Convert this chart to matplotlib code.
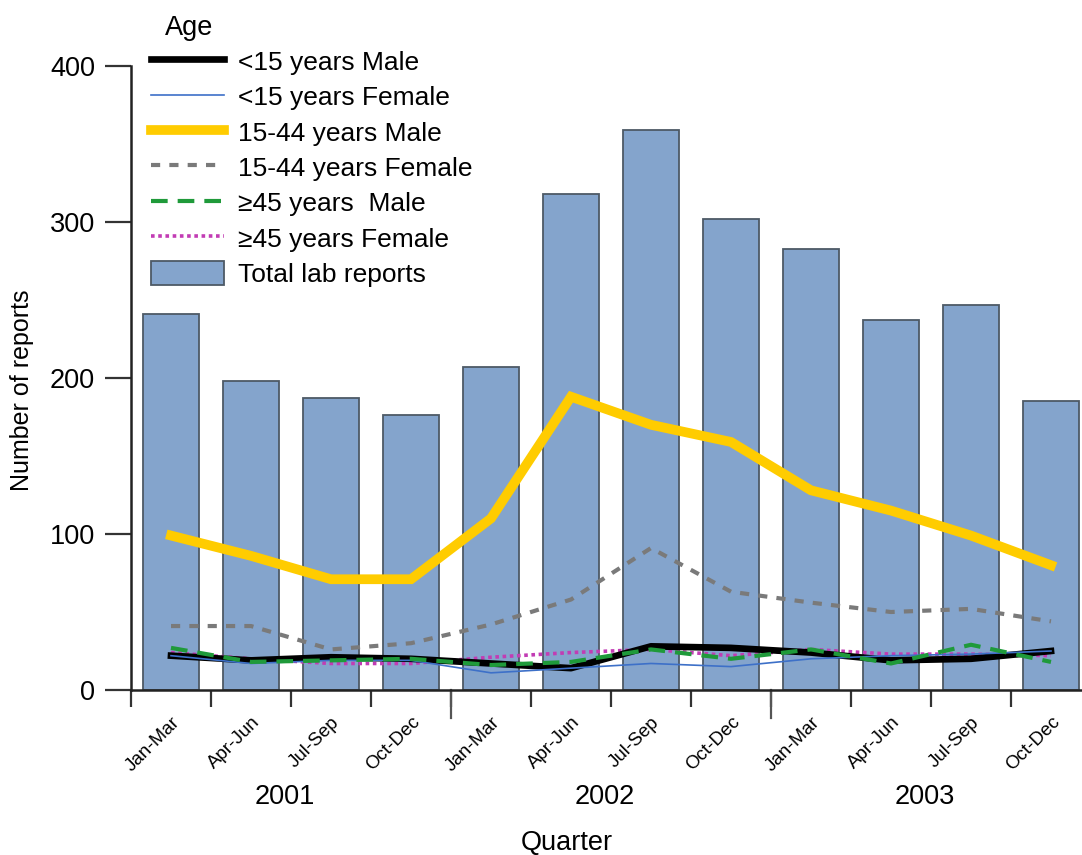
import numpy as np
import matplotlib
matplotlib.use('Agg')
import matplotlib.pyplot as plt
from matplotlib.lines import Line2D
from matplotlib.patches import Patch
from matplotlib.transforms import ScaledTranslation, blended_transform_factory

plt.rcParams['font.family'] = ['Liberation Sans', 'DejaVu Sans']

quarters = ['Jan-Mar', 'Apr-Jun', 'Jul-Sep', 'Oct-Dec'] * 3
years = ['2001', '2002', '2003']

total_reports = [241, 198, 187, 176, 207, 318, 359, 302, 283, 237, 247, 185]

u15_male = [22, 19, 21, 20, 17, 14, 28, 27, 24, 19, 20, 25]
u15_female = [22, 17, 19, 19, 11, 14, 17, 15, 20, 22, 23, 25]
a15_44_male = [99, 86, 71, 71, 110, 188, 170, 159, 128, 115, 99, 80]
a15_44_female = [41, 41, 26, 30, 42, 58, 91, 63, 56, 50, 52, 44]
o45_male = [27, 18, 19, 20, 16, 18, 26, 20, 26, 17, 29, 18]
o45_female = [24, 20, 17, 17, 21, 24, 26, 22, 26, 23, 23, 22]

W, H = 1082, 855
fig = plt.figure(figsize=(W / 100, H / 100), dpi=100)
ax = fig.add_axes([131 / W, (H - 690) / H, 950 / W, 624 / H])

x = np.arange(len(total_reports))
bars = ax.bar(x, total_reports, width=0.7, color='#84a4cc', edgecolor='#4d5966',
              linewidth=1.3, zorder=1)

ax.plot(x, a15_44_female, color='#7a7a7a', lw=3, ls=(0, (2.2, 2.2)), zorder=3)
ax.plot(x, o45_female, color='#c23cb4', lw=2.6, ls=(0, (1, 1)), zorder=3)
ax.plot(x, u15_male, color='black', lw=4.8, zorder=4)
ax.plot(x, u15_female, color='#3d70c8', lw=1.2, zorder=5)
ax.plot(x, o45_male, color='#1f9a3a', lw=3, ls=(0, (4, 2.4)), zorder=5)
ax.plot(x, a15_44_male, color='#ffcc00', lw=7, solid_joinstyle='miter', zorder=6)

ax.set_xlim(-0.5, 11.375)
ax.set_ylim(0, 400)
ax.set_yticks([0, 100, 200, 300, 400])
ax.tick_params(axis='y', length=19, width=1.6, pad=7, labelsize=19.5, color='#333333')

for s in ['top', 'right']:
    ax.spines[s].set_visible(False)
for s in ['left', 'bottom']:
    ax.spines[s].set_linewidth(1.8)
    ax.spines[s].set_color('#222222')

# category labels at bar centres, tick marks at the boundaries
ax.set_xticks(x)
ax.set_xticklabels(quarters, rotation=45, ha='right', fontsize=13.5)
ax.tick_params(axis='x', which='major', length=0, pad=17)
offset = ScaledTranslation(12 / 100, 0, fig.dpi_scale_trans)
for lab in ax.get_xticklabels():
    lab.set_transform(lab.get_transform() + offset)

bounds = np.arange(-0.5, 11, 1.0)
ax.set_xticks(bounds, minor=True)
ax.tick_params(axis='x', which='minor', length=12.5, width=1.6, color='#333333')
trans = blended_transform_factory(ax.transData, ax.transAxes)
for pos in [3.5, 7.5]:
    ax.plot([pos, pos], [0, -0.045], transform=trans, color='#555555', lw=1.6, clip_on=False)

for i, yr in enumerate(years):
    ax.text(4 * i + 1.5 - 0.08, -0.171, yr, transform=trans, ha='center', va='center', fontsize=19.5)

fig.text(567 / W, 1 - 843 / H, 'Quarter', ha='center', va='center', fontsize=19.5)
fig.text(22 / W, 1 - 390 / H, 'Number of reports', ha='center', va='center',
         rotation=90, fontsize=18)

fig.text(189 / W, 1 - 28 / H, 'Age', ha='center', va='center', fontsize=19.5)

handles = [
    Line2D([], [], color='black', lw=4.8),
    Line2D([], [], color='#3d70c8', lw=1.2),
    Line2D([], [], color='#ffcc00', lw=7),
    Line2D([], [], color='#7a7a7a', lw=3, ls=(0, (2.2, 2.2))),
    Line2D([], [], color='#1f9a3a', lw=3, ls=(0, (4, 2.4))),
    Line2D([], [], color='#c23cb4', lw=2.6, ls=(0, (1, 1))),
    Patch(facecolor='#84a4cc', edgecolor='#4d5966', linewidth=1.3),
]
labels = ['<15 years Male', '<15 years Female', '15-44 years Male', '15-44 years Female',
          '\u226545 years  Male', '\u226545 years Female', 'Total lab reports']
fig.legend(handles, labels, loc='upper left', bbox_to_anchor=(151 / W, 1 - 49 / H),
           frameon=False, fontsize=19, handlelength=2.75, handletextpad=0.55,
           labelspacing=0.36, borderpad=0, borderaxespad=0, handleheight=1.0)

fig.savefig('out.png', dpi=100)
